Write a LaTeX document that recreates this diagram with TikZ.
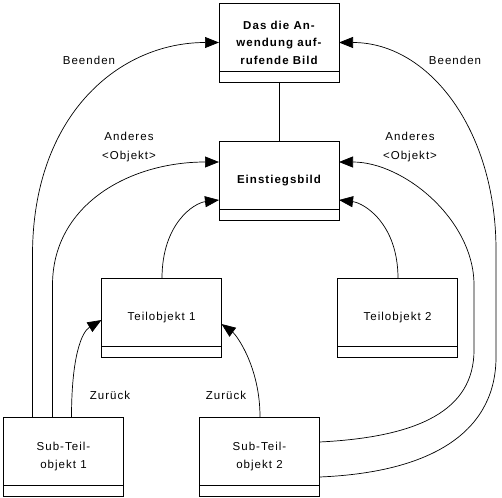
\documentclass[tikz,border=0pt]{standalone}
\usepackage{fontspec}
\setmainfont{Liberation Sans}[LetterSpace=9]
\usetikzlibrary{arrows.meta}

\begin{document}
\begin{tikzpicture}[x=1pt,y=-1pt,
    objbox/.style={draw,line width=0.8pt,fill=white,minimum width=120pt,minimum height=79pt,
        inner sep=0pt,outer sep=0pt,align=center,font=\fontsize{11.5}{17.5}\selectfont,
        path picture={
            \fill (path picture bounding box.north west) rectangle ([yshift=-11pt]path picture bounding box.north east);
            \draw[line width=0.8pt] ([yshift=11pt]path picture bounding box.south west) -- ([yshift=11pt]path picture bounding box.south east);
        }},
    flow/.style={line width=0.7pt,-{Triangle[length=14pt,width=11pt]}},
    txt/.style={align=center,inner sep=0pt,font=\fontsize{11.5}{19}\selectfont}
]
\useasboundingbox (0,0) rectangle (502,497);

\coordinate (cAppPt) at (279,42.5);
\coordinate (cEntryPt) at (279,180.5);
\coordinate (cTeilAPt) at (161.5,318);
\coordinate (cTeilBPt) at (397.5,318);
\coordinate (cSubAPt) at (63.5,456.5);
\coordinate (cSubBPt) at (259.5,456.5);

\node[objbox,font=\fontsize{11.5}{17.5}\selectfont\bfseries] (app) at (cAppPt) {Das die An-\\wendung auf-\\rufende Bild};
\node[objbox,font=\fontsize{11.5}{17.5}\selectfont\bfseries] (entry) at (cEntryPt) {Einstiegsbild};
\node[objbox] (teil1) at (cTeilAPt) {Teilobjekt 1};
\node[objbox] (teil2) at (cTeilBPt) {Teilobjekt 2};
\node[objbox] (sub1) at (cSubAPt) {Sub-Teil-\\objekt 1};
\node[objbox] (sub2) at (cSubBPt) {Sub-Teil-\\objekt 2};

\draw[line width=0.7pt] (app.south) -- (entry.north);

%left side
\draw[flow] ([xshift=29pt]sub1.north west) -- ++(0,-162)
    .. controls +(0,-140) and +(-100,0) .. (app.west);
\draw[flow] ([xshift=49pt]sub1.north west) -- ++(0,-132)
    .. controls +(0,-80) and +(-90,0) .. ([yshift=18.5pt]entry.west);
\draw[flow] ([xshift=68pt]sub1.north west)
    .. controls +(0,-60) and +(-20,12) .. ([yshift=-2pt]teil1.west);
\draw[flow] ([xshift=0.5pt]teil1.north)
    .. controls +(0,-55) and +(-25,3) .. ([yshift=-19.5pt]entry.west);

%right side
\draw[flow] ([xshift=0.5pt]teil2.north)
    .. controls +(0,-55) and +(25,3) .. ([yshift=-19.5pt]entry.east);
\draw[flow] ([xshift=0.5pt]sub2.north)
    .. controls +(0,-50) and +(15,11) .. ([yshift=-6pt]teil1.east);
\draw[flow] ([yshift=14.5pt]sub2.east)
    .. controls +(100,-5) and +(0,60) .. (474,350) -- (474,285)
    .. controls +(0,-65) and +(65,0) .. ([yshift=18.5pt]entry.east);
\draw[flow] ([yshift=-20.5pt]sub2.east)
    .. controls +(120,-5) and +(0,70) .. (496,357) -- (496,250)
    .. controls +(0,-120) and +(90,0) .. (app.east);

\node[txt] (lblEndL) at (89,60) {Beenden};
\node[txt] (lblEndR) at (455,60) {Beenden};
\node[txt] (lblOtherL) at (129,147.5) {Anderes\\<Objekt>};
\node[txt] (lblOtherR) at (410,147.5) {Anderes\\<Objekt>};
\node[txt] (lblBackL) at (110,395) {Zurück};
\node[txt] (lblBackR) at (226,395) {Zurück};

\end{tikzpicture}
\end{document}
